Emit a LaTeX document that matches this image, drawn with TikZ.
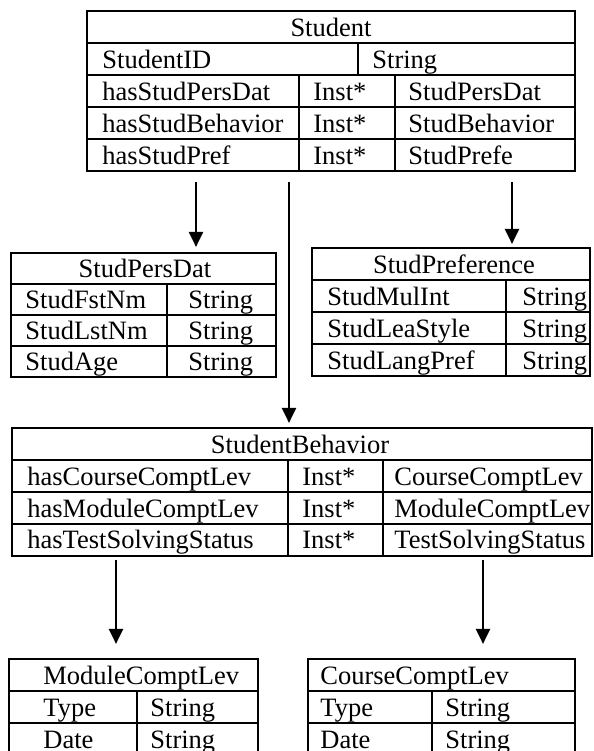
\documentclass[tikz,border=0pt]{standalone}
\usepackage{fontspec}
\setmainfont{Liberation Serif}
\usetikzlibrary{arrows.meta,fit,positioning}

\begin{document}
\begin{tikzpicture}[x=0.5pt, y=-0.5pt, >={Triangle[length=7.5pt,width=7pt]},
    tbl/.style={draw, line width=1.1pt, inner sep=0pt},
    rule/.style={line width=1.1pt},
    cell/.style={anchor=base west, inner sep=0pt, font=\fontsize{13.25}{15}\selectfont},
    head/.style={anchor=base, inner sep=0pt, font=\fontsize{13.25}{15}\selectfont},
    arr/.style={->, line width=1.1pt}]
        \useasboundingbox (0,0) rectangle (594,751);
        \clip (0,0) rectangle (594,751);

        % Student table
        \node[tbl, fit={(87,11) (575,171)}] (student) {};
        \draw[rule] (87,43) -- (575,43);
        \draw[rule] (87,75) -- (575,75);
        \draw[rule] (87,107) -- (575,107);
        \draw[rule] (87,139) -- (575,139);
        \draw[rule] (358,43) -- (358,75);
        \draw[rule] (299,75) -- (299,171);
        \draw[rule] (395,75) -- (395,171);
        \node[head] (studenttitle) at (331,36) {Student};
        \node[cell] (studentid) at (102,68) {StudentID};
        \node[cell] (studentidtype) at (372,68) {String};
        \node[cell] (haspers) at (102,100) {hasStudPersDat};
        \node[cell] (haspersinst) at (313,100) {Inst*};
        \node[cell] (haspersrange) at (408,100) {StudPersDat};
        \node[cell] (hasbehav) at (102,132) {hasStudBehavior};
        \node[cell] (hasbehavinst) at (313,132) {Inst*};
        \node[cell] (hasbehavrange) at (408,132) {StudBehavior};
        \node[cell] (haspref) at (102,164) {hasStudPref};
        \node[cell] (hasprefinst) at (313,164) {Inst*};
        \node[cell] (hasprefrange) at (408,164) {StudPrefe};

        % StudPersDat table
        \node[tbl, fit={(11,253) (276,377)}] (persdat) {};
        \draw[rule] (11,284) -- (276,284);
        \draw[rule] (11,315) -- (276,315);
        \draw[rule] (11,346) -- (276,346);
        \draw[rule] (167,284) -- (167,377);
        \node[head] (perstitle) at (145,277) {StudPersDat};
        \node[cell] (fstnm) at (25,308) {StudFstNm};
        \node[cell] (fstnmtype) at (188,308) {String};
        \node[cell] (lstnm) at (25,339) {StudLstNm};
        \node[cell] (lstnmtype) at (188,339) {String};
        \node[cell] (age) at (25,370) {StudAge};
        \node[cell] (agetype) at (188,370) {String};

        % StudPreference table
        \node[tbl, fit={(312,248) (590,376)}] (pref) {};
        \draw[rule] (312,280) -- (590,280);
        \draw[rule] (312,312) -- (590,312);
        \draw[rule] (312,344) -- (590,344);
        \draw[rule] (506,280) -- (506,376);
        \node[head] (preftitle) at (454,273) {StudPreference};
        \node[cell] (mulint) at (327,305) {StudMulInt};
        \node[cell] (mulinttype) at (522,305) {String};
        \node[cell] (leastyle) at (327,337) {StudLeaStyle};
        \node[cell] (leastyletype) at (522,337) {String};
        \node[cell] (langpref) at (327,369) {StudLangPref};
        \node[cell] (langpreftype) at (522,369) {String};

        % StudentBehavior table
        \node[tbl, fit={(12,428) (592,556)}] (behav) {};
        \draw[rule] (12,460) -- (592,460);
        \draw[rule] (12,492) -- (592,492);
        \draw[rule] (12,524) -- (592,524);
        \draw[rule] (288,460) -- (288,556);
        \draw[rule] (383,460) -- (383,556);
        \node[head] (behavtitle) at (300,453) {StudentBehavior};
        \node[cell] (hascourse) at (27,485) {hasCourseComptLev};
        \node[cell] (hascourseinst) at (302,485) {Inst*};
        \node[cell] (hascourserange) at (394,485) {CourseComptLev};
        \node[cell] (hasmodule) at (27,517) {hasModuleComptLev};
        \node[cell] (hasmoduleinst) at (302,517) {Inst*};
        \node[cell] (hasmodulerange) at (394,517) {ModuleComptLev};
        \node[cell] (hastest) at (27,548) {hasTestSolvingStatus};
        \node[cell] (hastestinst) at (302,548) {Inst*};
        \node[cell] (hastestrange) at (394,548) {TestSolvingStatus};

        % ModuleComptLev table
        \node[tbl, fit={(9,659) (258,755)}] (module) {};
        \draw[rule] (9,691) -- (258,691);
        \draw[rule] (9,723) -- (258,723);
        \draw[rule] (137,691) -- (137,755);
        \node[cell] (moduletitle) at (43,684) {ModuleComptLev};
        \node[cell] (moduletype) at (43,716) {Type};
        \node[cell] (moduletypet) at (150,716) {String};
        \node[cell] (moduledate) at (43,748) {Date};
        \node[cell] (moduledatet) at (150,748) {String};

        % CourseComptLev table
        \node[tbl, fit={(308,659) (575,755)}] (course) {};
        \draw[rule] (308,691) -- (575,691);
        \draw[rule] (308,723) -- (575,723);
        \draw[rule] (432,691) -- (432,755);
        \node[cell] (coursetitle) at (320,684) {CourseComptLev};
        \node[cell] (coursetype) at (320,716) {Type};
        \node[cell] (coursetypet) at (445,716) {String};
        \node[cell] (coursedate) at (320,748) {Date};
        \node[cell] (coursedatet) at (445,748) {String};

        % Arrows
        \coordinate (toPers) at (196,182);
        \coordinate (toBehav) at (289,182);
        \coordinate (toPref) at (512,182);
        \coordinate (toModule) at (116,560);
        \coordinate (toCourse) at (483,560);
        \draw[arr, shorten >=2.5pt] (toPers) -- (toPers |- persdat.north);
        \draw[arr, shorten >=2pt] (toBehav) -- (toBehav |- behav.north);
        \draw[arr, shorten >=1.5pt] (toPref) -- (toPref |- pref.north);
        \draw[arr, shorten >=7pt] (toModule) -- (toModule |- module.north);
        \draw[arr, shorten >=7pt] (toCourse) -- (toCourse |- course.north);
    \end{tikzpicture}
\end{document}
